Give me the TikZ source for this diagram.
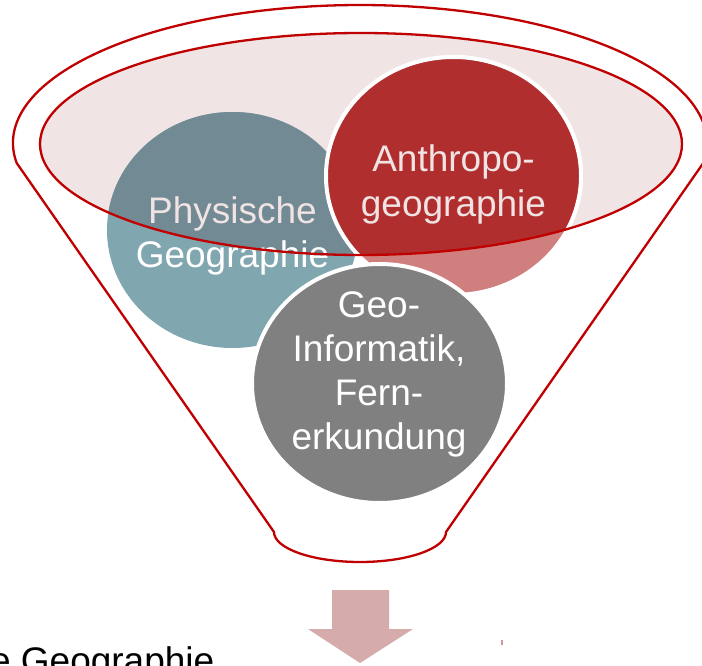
\documentclass[tikz,border=0pt]{standalone}
\usepackage{fontspec}
\setmainfont{Liberation Sans}
\definecolor{funnelred}{HTML}{C00000}
\definecolor{rimfill}{HTML}{F0E4E5}
\definecolor{blueout}{HTML}{80A6AF}
\definecolor{bluein}{HTML}{728A94}
\definecolor{redout}{HTML}{D07F7F}
\definecolor{redin}{HTML}{B02E2E}
\definecolor{greyc}{HTML}{808080}
\definecolor{arrowc}{HTML}{D5ABAB}
\definecolor{markc}{HTML}{D49595}
\definecolor{tint}{HTML}{F0E3E3}
\begin{document}
\begin{tikzpicture}[x=1pt,y=-1pt,
  rim/.style={draw=funnelred, line width=2.3pt},
  ring/.style={draw=white, line width=4pt},
  lbl/.style={inner sep=0pt, anchor=base, text=white, font=\fontsize{37}{44}\selectfont},
  ]
\useasboundingbox (0,0) rectangle (702,666);
\clip (0,0) rectangle (702,666);

% inner rim fill
\fill[rimfill] (361,144) ellipse [x radius=321, y radius=111];

% circles, outside colours
\fill[blueout] (232.5,230) ellipse [x radius=125.5, y radius=118];
\path[fill=redout, ring] (453.5,176) ellipse [x radius=127.5, y radius=119];
\path[fill=greyc, ring] (379.5,383.5) ellipse [x radius=127.5, y radius=119.5];

% circles, inside the rim
\begin{scope}
  \clip (361,144) ellipse [x radius=321, y radius=111];
  \fill[bluein] (232.5,230) ellipse [x radius=125.5, y radius=118];
  \path[fill=redin, ring] (453.5,176) ellipse [x radius=127.5, y radius=119];
\end{scope}

% labels
\node[lbl] (tphys) at (232.5,223) {\begin{tabular}[t]{@{}c@{}}\textcolor{tint}{Physische}\\Geographie\end{tabular}};
\node[lbl] (tanthro) at (453.5,172) {\begin{tabular}[t]{@{}c@{}}\textcolor{tint}{Anthropo-}\\\textcolor{tint}{geographie}\end{tabular}};
\node[lbl] (tgeo) at (379,317) {\begin{tabular}[t]{@{}c@{}}Geo-\\Informatik,\\Fern-\\erkundung\end{tabular}};

% inner rim outline
\draw[rim] (361,144) ellipse [x radius=321, y radius=111];

% funnel outline
\draw[rim] (16.66,163) arc[start angle=171.67, end angle=368.33, x radius=347, y radius=138]
  -- (446,532) arc[start angle=0, end angle=180, x radius=86, y radius=30] -- cycle;

% arrow
\fill[arrowc] (332,590) -- (389,590) -- (389,629) -- (413,629) -- (360,663) -- (308,629) -- (332,629) -- cycle;
\fill[markc] (501,640) rectangle (503,645);

% bottom text
\node[inner sep=0pt, anchor=base east, text=black, font=\fontsize{37}{44}\selectfont] (tbottom) at (214.5,673) {e Geographie};
\end{tikzpicture}
\end{document}
